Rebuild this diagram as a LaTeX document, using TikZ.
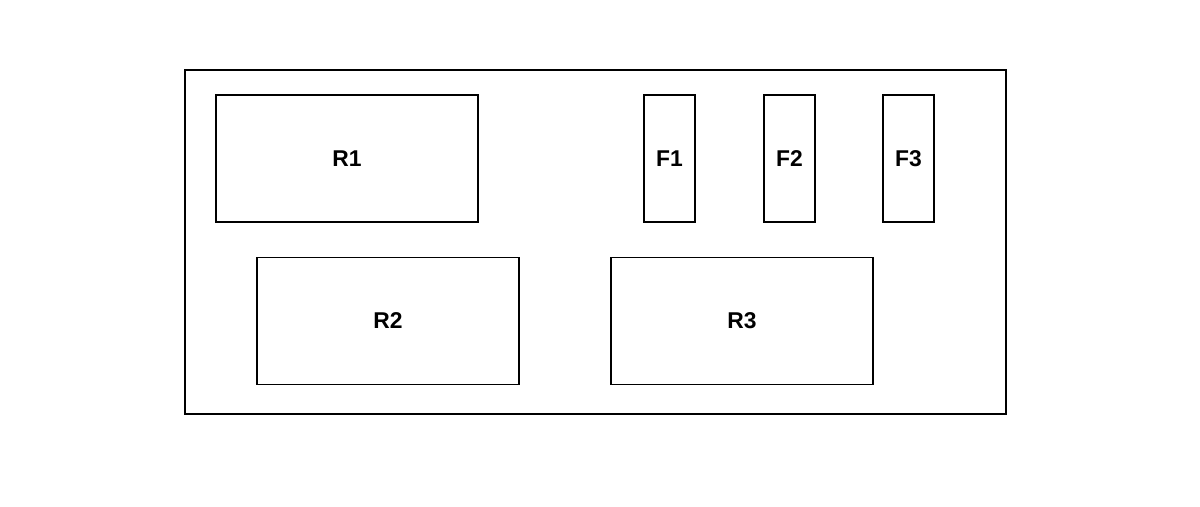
\documentclass[tikz,border=0pt]{standalone}
\usepackage{fontspec}
\setmainfont{Liberation Sans}
\usetikzlibrary{positioning}
\tikzset{
  relay/.style={draw,line width=0.85pt,inner sep=0pt,minimum width=5.24cm,minimum height=2.54cm,font=\fontsize{13}{15}\selectfont\bfseries},
  fuse/.style={relay,minimum width=1.02cm}
}
\begin{document}
\begin{tikzpicture}[x=0.02cm,y=-0.02cm]
  \useasboundingbox (0,0) rectangle (1200,507);
  % housing
  \node[draw,line width=0.85pt,inner sep=0pt,minimum width=16.42cm,minimum height=6.88cm] (panel) at (595.5,242) {};
  % top row
  \node[relay] (r1) at (347,158.5) {R1};
  \node[fuse] (f1) at (669.5,158.5) {F1};
  \node[fuse] (f2) at (789.5,158.5) {F2};
  \node[fuse] (f3) at (908.5,158.5) {F3};
  % bottom row
  \node[relay] (r2) at (388,321) {R2};
  \node[relay] (r3) at (742,321) {R3};
\end{tikzpicture}
\end{document}
